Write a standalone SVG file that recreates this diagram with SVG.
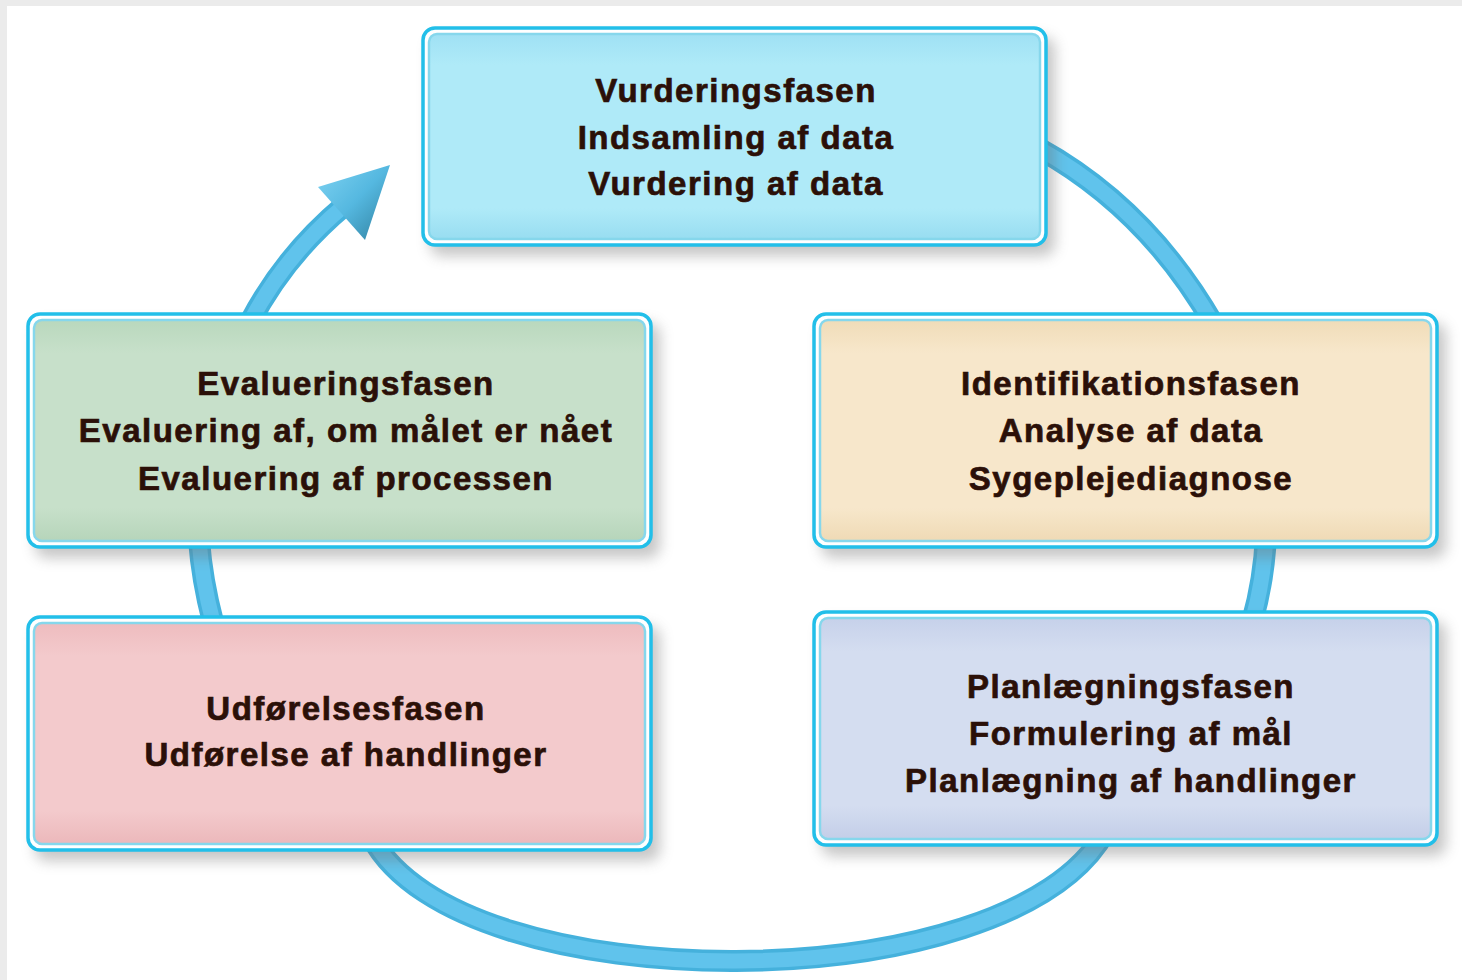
<svg xmlns="http://www.w3.org/2000/svg" width="1462" height="980" viewBox="0 0 1462 980">
<defs>
<style>
.t{font-family:"Liberation Sans",Arial,sans-serif;font-weight:bold;font-size:33px;letter-spacing:1.5px;fill:#2b1008;stroke:#2b1008;stroke-width:0.7;text-anchor:middle}
.outer{fill:#ffffff;stroke:#22bfe9;stroke-width:3.5}
.inner{stroke:#86d7ec;stroke-width:2.5}
.sh{fill:#6b6b6b;opacity:0.38;filter:url(#blur)}
.ringbase{fill:none;stroke:#45b1dc;stroke-width:22}
.ringhi{fill:none;stroke:#60c3ec;stroke-width:15}
</style>
<filter id="blur" x="-10%" y="-10%" width="120%" height="130%"><feGaussianBlur stdDeviation="7"/></filter>
<linearGradient id="gTop" x1="0" y1="0" x2="0" y2="1"><stop offset="0" stop-color="#9fe1f4"/><stop offset="0.15" stop-color="#afeaf8"/><stop offset="0.85" stop-color="#afeaf8"/><stop offset="1" stop-color="#98ddf1"/></linearGradient>
<linearGradient id="gGreen" x1="0" y1="0" x2="0" y2="1"><stop offset="0" stop-color="#b9d8bd"/><stop offset="0.15" stop-color="#c7e0ca"/><stop offset="0.85" stop-color="#c7e0ca"/><stop offset="1" stop-color="#b6d5ba"/></linearGradient>
<linearGradient id="gBeige" x1="0" y1="0" x2="0" y2="1"><stop offset="0" stop-color="#f0dcb8"/><stop offset="0.15" stop-color="#f7e7cb"/><stop offset="0.85" stop-color="#f7e7cb"/><stop offset="1" stop-color="#efdab5"/></linearGradient>
<linearGradient id="gPink" x1="0" y1="0" x2="0" y2="1"><stop offset="0" stop-color="#eebcbf"/><stop offset="0.15" stop-color="#f3cacc"/><stop offset="0.85" stop-color="#f3cacc"/><stop offset="1" stop-color="#ecb8bb"/></linearGradient>
<linearGradient id="gBlue" x1="0" y1="0" x2="0" y2="1"><stop offset="0" stop-color="#c6d1ea"/><stop offset="0.15" stop-color="#d4ddf0"/><stop offset="0.85" stop-color="#d4ddf0"/><stop offset="1" stop-color="#c3cee8"/></linearGradient>
<linearGradient id="gArrow" x1="0" y1="0" x2="1" y2="1"><stop offset="0" stop-color="#7fd3f2"/><stop offset="0.5" stop-color="#55b8e0"/><stop offset="1" stop-color="#2f7f9e"/></linearGradient>
</defs>
<rect x="0" y="0" width="1462" height="980" fill="#ebebeb"/>
<rect x="7" y="6" width="1455" height="974" fill="#ffffff"/>

<g id="connectors">
<path class="ringbase" d="M1038,148 Q1147,208 1214,325"/>
<path class="ringhi" d="M1038,148 Q1147,208 1214,325"/>
<path class="ringbase" d="M1266,535 Q1264,580 1252,622"/>
<path class="ringhi" d="M1266,535 Q1264,580 1252,622"/>
<path class="ringbase" d="M199,540 Q202,580 213,622"/>
<path class="ringhi" d="M199,540 Q202,580 213,622"/>
<path class="ringbase" d="M372,838 C460,1003 1010,1003 1105,832"/>
<path class="ringhi" d="M372,838 C460,1003 1010,1003 1105,832"/>
<path class="ringbase" d="M250,322 Q285,255 345,205"/>
<path class="ringhi" d="M250,322 Q285,255 345,205"/>
<polygon points="390,165 318,187 365,240" fill="url(#gArrow)"/>
</g>

<g id="node-vurdering">
<rect class="sh" x="430" y="37" width="625" height="219" rx="12"/>
<rect class="outer" x="423" y="28" width="623" height="217" rx="12"/>
<rect class="inner" x="429" y="34" width="611" height="205" rx="8" fill="url(#gTop)"/>
<text class="t" x="736" y="102">Vurderingsfasen</text>
<text class="t" x="736" y="149">Indsamling af data</text>
<text class="t" x="736" y="195">Vurdering af data</text>
</g>

<g id="node-evaluering">
<rect class="sh" x="35" y="323" width="625" height="235" rx="12"/>
<rect class="outer" x="28" y="314" width="623" height="233" rx="12"/>
<rect class="inner" x="34" y="320" width="611" height="221" rx="8" fill="url(#gGreen)"/>
<text class="t" x="346" y="395">Evalueringsfasen</text>
<text class="t" x="346" y="442">Evaluering af, om målet er nået</text>
<text class="t" x="346" y="490">Evaluering af processen</text>
</g>

<g id="node-identifikation">
<rect class="sh" x="821" y="323" width="625" height="235" rx="12"/>
<rect class="outer" x="814" y="314" width="623" height="233" rx="12"/>
<rect class="inner" x="820" y="320" width="611" height="221" rx="8" fill="url(#gBeige)"/>
<text class="t" x="1131" y="395">Identifikationsfasen</text>
<text class="t" x="1131" y="442">Analyse af data</text>
<text class="t" x="1131" y="490">Sygeplejediagnose</text>
</g>

<g id="node-udfoerelse">
<rect class="sh" x="35" y="626" width="625" height="235" rx="12"/>
<rect class="outer" x="28" y="617" width="623" height="233" rx="12"/>
<rect class="inner" x="34" y="623" width="611" height="221" rx="8" fill="url(#gPink)"/>
<text class="t" x="346" y="720">Udførelsesfasen</text>
<text class="t" x="346" y="766">Udførelse af handlinger</text>
</g>

<g id="node-planlaegning">
<rect class="sh" x="821" y="621" width="625" height="235" rx="12"/>
<rect class="outer" x="814" y="612" width="623" height="233" rx="12"/>
<rect class="inner" x="820" y="618" width="611" height="221" rx="8" fill="url(#gBlue)"/>
<text class="t" x="1131" y="698">Planlægningsfasen</text>
<text class="t" x="1131" y="745">Formulering af mål</text>
<text class="t" x="1131" y="792">Planlægning af handlinger</text>
</g>
</svg>
